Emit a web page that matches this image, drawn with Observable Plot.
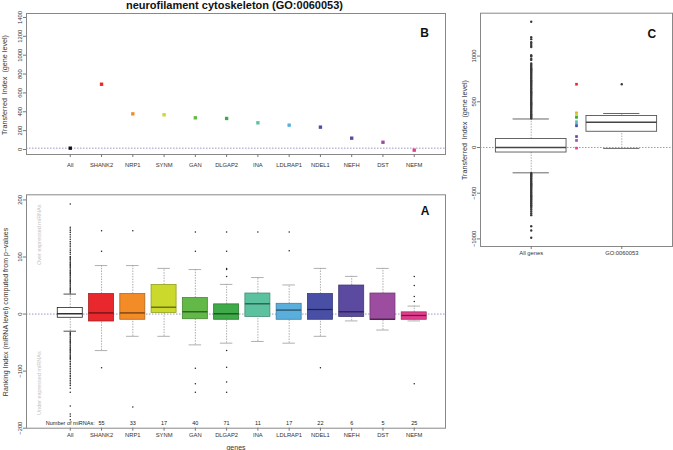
<!DOCTYPE html>
<html>
<head>
<meta charset="utf-8">
<script src="https://cdn.jsdelivr.net/npm/d3@7"></script>
<script src="https://cdn.jsdelivr.net/npm/@observablehq/plot@0.6"></script>
<style>
  body { margin: 0; background: #fff; }
  #root { position: relative; width: 673px; height: 450px; overflow: hidden; background: #fff;
          font-family: "Liberation Sans", Arial, Helvetica, sans-serif; }
  .p { position: absolute; }
  .p svg { display: block; overflow: visible; }
  .vlab { position: absolute; white-space: pre; line-height: 1; color: #333;
          transform: translate(-50%, -50%) rotate(-90deg); }
  .hlab { position: absolute; white-space: pre; line-height: 1; color: #333;
          transform: translate(-50%, -50%); }
</style>
</head>
<body>
<div id="root"></div>
<script>
// ---------------- data ----------------
const genes = ["All", "SHANK2", "NRP1", "SYNM", "GAN", "DLGAP2", "INA", "LDLRAP1", "NDEL1", "NEFH", "DST", "NEFM"];
const palette = ["#ffffff", "#e8282c", "#f38b27", "#cbd82c", "#63b947", "#3eaa48", "#5bc19e", "#5aaedc", "#4a4fa6", "#5b4a9f", "#9c4d9f", "#e33d8e"];

// Panel B: transferred index (gene level)
const transferred = [14, 692, 378, 368, 336, 329, 283, 258, 237, 120, 77, -7];
const ticksB = [0, 200, 400, 600, 800, 1000, 1200, 1400];

// Panel A: ranking index box plots (miRNA level)
const miRNACounts = [null, 55, 33, 17, 40, 71, 11, 17, 22, 6, 5, 25];
const q1A      = [-6.5, -13, -10,  2,  -9, -10,  -5, -10, -10,  -5, -10.5, -10];
const medA     = [ 0.5,   2,   2, 12,   4, 0.5,  18,   7,   8,   4,  -9,  -2.5];
const q3A      = [10.5,  35,  35, 51,  28,  17,  36,  18,  35,  50,  36,    3];
const whiskLoA = [ -30, -64, -39, -39, -54, -51, -48, -51, -39, -12, -28, -12];
const whiskHiA = [  35,  85,  85,  80,  78,  52,  64,  51,  80,  66,  80,  14];
const outAll = [193, 152, 149, 146, 143, 139, 135, 131, 127, 124, 121, 118, 114, 111, 108, 105, 101, 99, 97, 95,
                93, 91, 89, 87, 85, 83, 81, 79, 77, 75, 73, 71, 69, 67, 65, 63, 61, 59, 57, 55, 53, 51, 49, 47,
                45, 43, 41, 39, 37,
                -32, -34, -36, -38, -40, -42, -44, -46, -48, -50, -52, -54, -56, -58, -60, -62, -64, -66, -68,
                -70, -72, -74, -76, -78, -80, -83, -86, -89, -92, -95, -98, -101, -104, -107, -110, -113, -116,
                -119, -122, -125, -130, -137, -161, -175, -179, -185];
const outSHANK2 = [146, 110, -94];
const outNRP1 = [146, -163];
const outSYNM = [];
const outGAN = [144, 110, -95, -122, -137];
const outDLGAP2 = [144, 110, 80, 78, 66, -64, -93, -119, -137];
const outINA = [144];
const outLDLRAP1 = [144, 111];
const outNDEL1 = [-94];
const outNEFH = [];
const outDST = [];
const outNEFM = [66, 50, 31, 22, -122];
const outliersA = [outAll, outSHANK2, outNRP1, outSYNM, outGAN, outDLGAP2, outINA, outLDLRAP1, outNDEL1, outNEFH, outDST, outNEFM];
const ticksA = [-200, -100, 0, 100, 200];

// Panel C: all genes vs GO term
const groupsC = ["All genes", "GO:0060053"];
const q1C = [-55, 172];
const medC = [0, 277];
const q3C = [93, 345];
const whiskLoC = [-277, -10];
const whiskHiC = [312, 372];
const outAllGenes = [1375, 1207, 1185, 1152, 1132, 1112, 1100, 1010, 998, 972, 958, 920, 905, 893, 880, 868, 856,
                     844, 832, 820, 808, 796, 784, 772, 760, 748, 736, 724, 712, 700, 688, 676, 664, 652, 640, 628,
                     616, 604, 592, 580, 568, 556, 544, 532, 520, 508, 496, 484, 472, 460, 448, 436, 424, 412, 400,
                     388, 376, 364, 352, 340, 328, 318,
                     -282, -294, -306, -318, -330, -342, -354, -366, -378, -390, -402, -414, -426, -438, -450, -462,
                     -474, -486, -498, -510, -522, -534, -546, -558, -570, -582, -594, -606, -618, -632, -646, -660,
                     -678, -700, -722, -740, -862, -908, -988];
const outGO = [692];
const outliersC = [outAllGenes, outGO];
const ticksC = [-1000, -500, 0, 500, 1000];

// ---------------- helpers ----------------
const font = '"Liberation Sans", Arial, Helvetica, sans-serif';
const root = document.getElementById("root");
function place(el, left, top) {
  const d = document.createElement("div");
  d.className = "p";
  d.style.left = left + "px";
  d.style.top = top + "px";
  d.appendChild(el);
  root.appendChild(d);
}
function label(text, cls, x, y, size, extra) {
  const d = document.createElement("div");
  d.className = cls;
  d.textContent = text;
  d.style.left = x + "px";
  d.style.top = y + "px";
  d.style.fontSize = size + "px";
  if (extra) Object.assign(d.style, extra);
  root.appendChild(d);
}
const plain = d => d < 0 ? "\u2212" + Math.abs(d) : String(d);
const zeroLine = {stroke: "#8d8dbd", strokeDasharray: "1.5,1.5", strokeWidth: 0.9};
const baseStyle = {fontFamily: font, fontSize: "5.8px", color: "#333", background: "transparent", overflow: "visible"};
const boxHalf = 0.4, capHalf = 0.2;

// ---------------- Panel B ----------------
const plotB = Plot.plot({
  width: 460, height: 175,
  marginLeft: 26, marginRight: 15, marginTop: 13, marginBottom: 21,
  x: {type: "linear", domain: [-0.4, 13.0]},
  y: {type: "linear", domain: [-53, 1442]},
  style: baseStyle,
  marks: [
    Plot.ruleY([transferred[0]], zeroLine),
    Plot.dot(genes, {x: (d, i) => i + 1, y: (d, i) => transferred[i], symbol: "square", r: 1.9,
                     fill: (d, i) => i === 0 ? "#111111" : palette[i]}),
    Plot.frame({stroke: "#888"}),
    Plot.axisY({ticks: ticksB, tickFormat: plain, tickRotate: -90, tickSize: 3, tickPadding: 1.5, label: null, stroke: "#777"}),
    Plot.axisX({ticks: genes.map((g, i) => i + 1), tickFormat: d => genes[d - 1], tickSize: 3, tickPadding: 5, label: null, stroke: "#777"}),
    Plot.text(["B"], {frameAnchor: "top-right", dx: -16.7, dy: 15.3, fontWeight: "bold", fontSize: 12, fill: "#111"})
  ]
});
place(plotB, 0, 0);

// ---------------- Panel A ----------------
const boxA = genes.map((g, i) => ({
  gene: g, x: i + 1, q1: q1A[i], med: medA[i], q3: q3A[i], lo: whiskLoA[i], hi: whiskHiA[i],
  fill: palette[i],
  stroke: i === 0 ? "#222222" : d3.color(palette[i]).darker(0.9).formatHex(),
  medStroke: i === 0 ? "#111111" : d3.color(palette[i]).darker(2.2).formatHex(),
  capStroke: i === 0 ? "#222222" : "#9a9a9a",
  count: miRNACounts[i]
}));
const outA = outliersA.flatMap((vals, i) => vals.map(v => ({x: i + 1, y: v})));

const plotA = Plot.plot({
  width: 460, height: 270,
  marginLeft: 26, marginRight: 15, marginTop: 14.3, marginBottom: 22.3,
  x: {type: "linear", domain: [-0.4, 13.0]},
  y: {type: "linear", domain: [-200, 209]},
  style: baseStyle,
  marks: [
    Plot.text(["Over expressed miRNAs"], {x: () => 0, y: () => 139, rotate: -90, fill: "#c4c4c4", fontSize: 5.5}),
    Plot.text(["Under expressed miRNAs"], {x: () => 0, y: () => -121, rotate: -90, fill: "#c4c4c4", fontSize: 5.5}),
    Plot.ruleX(boxA, {x: "x", y1: "q3", y2: "hi", stroke: "#8a8a8a", strokeDasharray: "1.5,1.2", strokeWidth: 0.7}),
    Plot.ruleX(boxA, {x: "x", y1: "lo", y2: "q1", stroke: "#8a8a8a", strokeDasharray: "1.5,1.2", strokeWidth: 0.7}),
    Plot.ruleY(boxA, {y: "hi", x1: d => d.x - capHalf, x2: d => d.x + capHalf, stroke: "capStroke", strokeWidth: 0.8}),
    Plot.ruleY(boxA, {y: "lo", x1: d => d.x - capHalf, x2: d => d.x + capHalf, stroke: "capStroke", strokeWidth: 0.8}),
    Plot.ruleY([0], zeroLine),
    Plot.rect(boxA, {x1: d => d.x - boxHalf, x2: d => d.x + boxHalf, y1: "q1", y2: "q3", fill: "fill", stroke: "stroke", strokeWidth: 0.8}),
    Plot.ruleY(boxA, {y: "med", x1: d => d.x - boxHalf, x2: d => d.x + boxHalf, stroke: "medStroke", strokeWidth: 1.3}),
    Plot.dot(outA, {x: "x", y: "y", r: 0.75, fill: "#222"}),
    Plot.text(["Number of miRNAs:"], {x: () => 1, y: () => -191, fill: "#222", fontSize: 5.5}),
    Plot.text(boxA.slice(1), {x: "x", y: () => -191, text: d => String(d.count), fill: "#222", fontSize: 5.5}),
    Plot.frame({stroke: "#888"}),
    Plot.axisY({ticks: ticksA, tickFormat: plain, tickRotate: -90, tickSize: 3, tickPadding: 1.5, label: null, stroke: "#777"}),
    Plot.axisX({ticks: genes.map((g, i) => i + 1), tickFormat: d => genes[d - 1], tickSize: 3, tickPadding: 2, label: null, stroke: "#777"}),
    Plot.text(["A"], {frameAnchor: "top-right", dx: -16, dy: 11.7, fontWeight: "bold", fontSize: 12, fill: "#111"})
  ]
});
place(plotA, 0, 180);

// ---------------- Panel C ----------------
const boxC = groupsC.map((g, i) => ({
  group: g, x: i + 1, q1: q1C[i], med: medC[i], q3: q3C[i], lo: whiskLoC[i], hi: whiskHiC[i]
}));
const outC = outliersC.flatMap((vals, i) => vals.map(v => ({x: i + 1, y: v})));

const plotC = Plot.plot({
  width: 213, height: 262,
  marginLeft: 20, marginRight: 1, marginTop: 12.7, marginBottom: 16,
  x: {type: "linear", domain: [0.44, 2.56]},
  y: {type: "linear", domain: [-1083, 1469]},
  style: baseStyle,
  marks: [
    Plot.ruleX(boxC, {x: "x", y1: "q3", y2: "hi", stroke: "#9a9a9a", strokeDasharray: "1.5,1.2", strokeWidth: 0.8}),
    Plot.ruleX(boxC, {x: "x", y1: "lo", y2: "q1", stroke: "#9a9a9a", strokeDasharray: "1.5,1.2", strokeWidth: 0.8}),
    Plot.ruleY(boxC, {y: "hi", x1: d => d.x - capHalf, x2: d => d.x + capHalf, stroke: "#555", strokeWidth: 0.9}),
    Plot.ruleY(boxC, {y: "lo", x1: d => d.x - capHalf, x2: d => d.x + capHalf, stroke: "#555", strokeWidth: 0.9}),
    Plot.ruleY([0], zeroLine),
    Plot.rect(boxC, {x1: d => d.x - 0.39, x2: d => d.x + 0.39, y1: "q1", y2: "q3", fill: "#fff", stroke: "#555", strokeWidth: 0.9}),
    Plot.ruleY(boxC, {y: "med", x1: d => d.x - 0.39, x2: d => d.x + 0.39, stroke: "#444", strokeWidth: 1.5}),
    Plot.dot(outC, {x: "x", y: "y", r: 1.2, fill: "#3a3a3a"}),
    Plot.dot(genes.slice(1), {x: () => 1.5, y: (d, i) => transferred[i + 1], symbol: "square", r: 1.5,
                              fill: (d, i) => palette[i + 1]}),
    Plot.frame({stroke: "#888"}),
    Plot.axisY({ticks: ticksC, tickFormat: plain, tickRotate: -90, tickSize: 3, tickPadding: 1.5, label: null, stroke: "#777"}),
    Plot.axisX({ticks: [1, 2], tickFormat: d => groupsC[d - 1], tickSize: 3, tickPadding: 1.5, label: null, stroke: "#777"}),
    Plot.text(["C"], {frameAnchor: "top-right", dx: -16.3, dy: 16.6, fontWeight: "bold", fontSize: 12, fill: "#111"})
  ]
});
place(plotC, 460, 0);

// ---------------- titles and axis labels ----------------
const t = document.createElement("div");
t.textContent = "neurofilament cytoskeleton (GO:0060053)";
Object.assign(t.style, {position: "absolute", left: "0px", width: "469px", top: "0px", textAlign: "center",
  font: "bold 11px/11px " + font, color: "#111"});
root.appendChild(t);
label("Transferred  Index  (gene level)", "vlab", 4.5, 85, 7.2);
label("Ranking Index (miRNA level) computed from p\u2212values", "vlab", 4.5, 311.5, 7);
label("genes", "hlab", 236, 446.5, 7);
label("Transferred  Index  (gene level)", "vlab", 464.5, 130, 7.2);
</script>
</body>
</html>
